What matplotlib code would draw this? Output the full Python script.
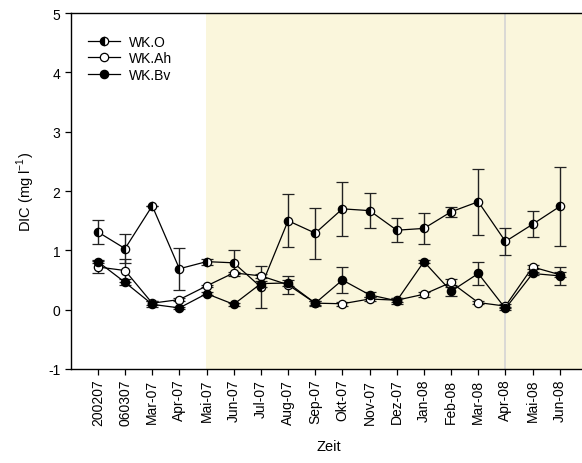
import matplotlib
matplotlib.use("Agg")
import matplotlib.pyplot as plt
from matplotlib.lines import Line2D
import numpy as np

plt.rcParams['font.family'] = ['Liberation Sans', 'DejaVu Sans']
plt.rcParams['axes.unicode_minus'] = False

months = ["200207", "060307", "Mar-07", "Apr-07", "Mai-07", "Jun-07", "Jul-07",
          "Aug-07", "Sep-07", "Okt-07", "Nov-07", "Dez-07", "Jan-08", "Feb-08",
          "Mar-08", "Apr-08", "Mai-08", "Jun-08"]

wk_o = [1.31, 1.03, 1.75, 0.69, 0.81, 0.79, 0.38, 1.50, 1.29, 1.70, 1.67,
        1.34, 1.37, 1.65, 1.82, 1.15, 1.44, 1.74]
wk_o_err = [0.20, 0.25, 0.00, 0.35, 0.05, 0.22, 0.36, 0.45, 0.43, 0.45, 0.29,
            0.20, 0.26, 0.08, 0.56, 0.23, 0.22, 0.67]

wk_ah = [0.72, 0.66, 0.11, 0.17, 0.40, 0.62, 0.57, 0.42, 0.11, 0.10, 0.18,
         0.16, 0.26, 0.46, 0.12, 0.06, 0.72, 0.59]
wk_ah_err = [0.10, 0.20, 0.03, 0.03, 0.02, 0.02, 0.03, 0.15, 0.03, 0.03, 0.04,
             0.03, 0.04, 0.05, 0.02, 0.03, 0.03, 0.04]

wk_bv = [0.81, 0.46, 0.09, 0.03, 0.27, 0.09, 0.44, 0.45, 0.11, 0.50, 0.25,
         0.15, 0.81, 0.31, 0.61, 0.02, 0.61, 0.57]
wk_bv_err = [0.03, 0.05, 0.05, 0.02, 0.02, 0.02, 0.05, 0.05, 0.04, 0.22, 0.04,
             0.05, 0.02, 0.08, 0.20, 0.03, 0.03, 0.15]

x = np.arange(len(months))

fig = plt.figure(figsize=(5.82, 4.64), dpi=100)
ax = fig.add_axes([0.1215, 0.2026, 0.887, 0.767])

# shaded measurement period and marker line
ax.axvspan(3.97, 18, color='#FAF6DC', zorder=0, lw=0)
ax.axvline(15, color='#D4D4D4', lw=1.2, zorder=1)

ms = 6.0
common = dict(color='black', lw=0.9, ecolor='#222222', elinewidth=1.0,
              capsize=4, capthick=1.0, markersize=ms, markeredgecolor='black',
              markeredgewidth=0.9)

ax.errorbar(x, wk_o, yerr=wk_o_err, marker='o', fillstyle='left',
            markerfacecolor='black', markerfacecoloralt='white', zorder=3,
            **common)
ax.errorbar(x, wk_ah, yerr=wk_ah_err, marker='o', markerfacecolor='white',
            zorder=4, **common)
ax.errorbar(x, wk_bv, yerr=wk_bv_err, marker='o', markerfacecolor='black',
            zorder=5, **common)

ax.set_xlim(-1, 18)
ax.set_ylim(-1, 5)
ax.set_yticks(range(-1, 6))
ax.set_xticks(x)
ax.set_xticklabels(months, rotation=90, fontsize=10)
ax.tick_params(axis='y', labelsize=10, direction='out', length=4, width=0.9)
ax.tick_params(axis='x', direction='out', length=4, width=0.9, pad=3)

for side in ['left', 'bottom', 'top']:
    ax.spines[side].set_linewidth(1.0)
ax.spines['right'].set_visible(False)

ax.set_ylabel(r'DIC (mg l$^{\mathregular{-1}}$)', fontsize=10.5, labelpad=8)
ax.set_xlabel('Zeit', fontsize=10.5, labelpad=10)

handle_style = dict(color='black', lw=0.9, marker='o', markersize=ms,
                    markeredgecolor='black', markeredgewidth=0.9)
handles = [
    Line2D([], [], fillstyle='left', markerfacecolor='black',
           markerfacecoloralt='white', **handle_style),
    Line2D([], [], markerfacecolor='white', **handle_style),
    Line2D([], [], markerfacecolor='black', **handle_style),
]
ax.legend(handles, ['WK.O', 'WK.Ah', 'WK.Bv'], loc='upper left',
          bbox_to_anchor=(0.01, 0.975), frameon=False, fontsize=10,
          handlelength=2.3, handletextpad=0.6, labelspacing=0.2)

fig.savefig('out.png', dpi=100)
